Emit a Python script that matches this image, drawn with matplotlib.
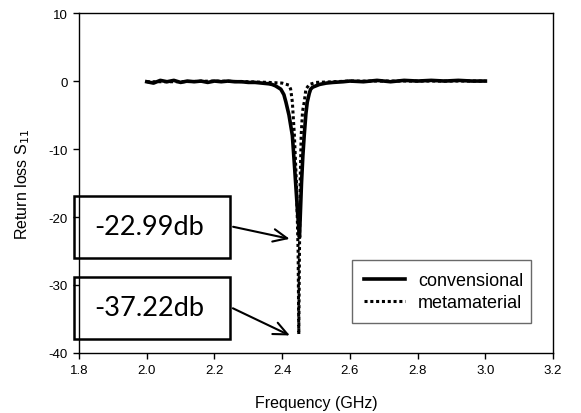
import matplotlib
matplotlib.use("Agg")
import matplotlib.pyplot as plt
from matplotlib.patches import Rectangle

plt.rcParams['font.family'] = ['Liberation Sans', 'DejaVu Sans']
plt.rcParams['axes.unicode_minus'] = False

# conventional antenna
conv_f = [2.00, 2.02, 2.04, 2.06, 2.08, 2.10, 2.12, 2.14, 2.16, 2.18, 2.20,
          2.22, 2.24, 2.26, 2.28, 2.30, 2.32, 2.34, 2.36, 2.37, 2.38, 2.396,
          2.405, 2.411, 2.42, 2.43, 2.437, 2.445, 2.451, 2.457, 2.461, 2.465,
          2.47, 2.474, 2.48, 2.484, 2.49, 2.50, 2.51, 2.53, 2.55, 2.58, 2.60,
          2.64, 2.68, 2.72, 2.76, 2.80, 2.84, 2.88, 2.92, 2.96, 3.00]
conv_s11 = [-0.1, -0.3, 0.1, -0.1, 0.1, -0.2, 0.0, -0.1, 0.0, -0.2, 0.0,
            -0.1, 0.0, -0.1, -0.1, -0.2, -0.2, -0.3, -0.4, -0.5, -0.7, -1.2,
            -2.0, -3.1, -5.0, -8.0, -13.0, -19.0, -22.99, -15.0, -11.0, -8.0,
            -4.8, -3.1, -1.8, -1.2, -0.9, -0.7, -0.5, -0.3, -0.2, -0.1, 0.0,
            -0.1, 0.1, -0.1, 0.1, 0.0, 0.1, 0.0, 0.1, 0.0, 0.0]

# metamaterial antenna
meta_f = [2.00, 2.10, 2.20, 2.30, 2.36, 2.40, 2.42, 2.425, 2.43, 2.436,
          2.442, 2.447, 2.449, 2.451, 2.453, 2.456, 2.460, 2.465, 2.47,
          2.48, 2.50, 2.55, 2.60, 2.70, 2.80, 2.90, 3.00]
meta_s11 = [-0.1, -0.1, 0.0, -0.1, -0.2, -0.3, -0.6, -1.2, -3.1, -8.0,
            -15.0, -25.0, -37.22, -25.0, -15.0, -8.0, -4.5, -3.1, -1.2,
            -0.5, -0.2, -0.1, 0.0, 0.0, 0.0, 0.0, 0.0]

xticks = [1.8, 2.0, 2.2, 2.4, 2.6, 2.8, 3.0, 3.2]
yticks = [-40, -30, -20, -10, 0, 10]

fig = plt.figure(figsize=(5.81, 4.14), dpi=100)
ax = fig.add_axes([0.136, 0.145, 0.816, 0.821])

ax.plot(meta_f, meta_s11, color='black', lw=2.2, linestyle=(0, (1, 0.9)),
        label='metamaterial', zorder=3)
ax.plot(conv_f, conv_s11, color='black', lw=2.6, label='convensional',
        zorder=4)

ax.set_xlim(1.8, 3.2)
ax.set_ylim(-40, 10)
ax.set_xticks(xticks)
ax.set_xticklabels(['%.1f' % t for t in xticks])
ax.set_yticks(yticks)
ax.tick_params(direction='out', length=4, width=1, labelsize=9.5, pad=4)
for s in ax.spines.values():
    s.set_linewidth(1.0)

ax.set_xlabel('Frequency (GHz)', fontsize=11.5)
ax.set_ylabel('Return loss S$_{11}$', fontsize=11.5)
ax.xaxis.set_label_coords(0.5, -0.125)
ax.yaxis.set_label_coords(-0.10, 0.5)

# legend, conventional first
h, l = ax.get_legend_handles_labels()
leg = ax.legend(h[::-1], l[::-1], loc='lower left',
                bbox_to_anchor=(0.576, 0.088, 0.378, 0.188), mode='expand',
                fontsize=13, frameon=True, fancybox=False, edgecolor='#444444',
                handlelength=2.3, handletextpad=0.7, borderpad=0.65,
                labelspacing=0.3, borderaxespad=0)
leg.get_frame().set_linewidth(1.0)

# annotation boxes
boxes = [(-16.9, -26.0, '-22.99db', -23.3), (-28.8, -37.9, '-37.22db', -37.6)]
for top, bot, txt, yend in boxes:
    ax.add_patch(Rectangle((1.785, bot), 2.247 - 1.785, top - bot,
                           facecolor='white', edgecolor='black', lw=1.8,
                           clip_on=False, zorder=1))
    ax.text(1.846, (top + bot) / 2, txt, fontsize=19.5, family=['Lato', 'DejaVu Sans'],
            va='center', ha='left', zorder=2)
    ax.annotate('', xy=(2.430, yend), xytext=(2.247, (top + bot) / 2 + 0.1),
                arrowprops=dict(arrowstyle='->,head_length=1.0,head_width=0.45',
                                color='black', lw=1.5), zorder=5)

fig.savefig('out.png', dpi=100)
